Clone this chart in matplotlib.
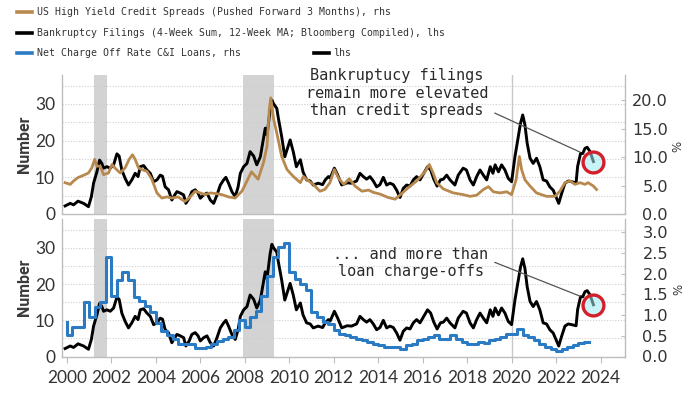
import matplotlib
matplotlib.use("Agg")
import matplotlib.pyplot as plt
from matplotlib.lines import Line2D
import numpy as np

# ---------------- data ----------------
bk_dates = [1999.92, 2000.15, 2000.3, 2000.5, 2000.75, 2000.97, 2001.1, 2001.2, 2001.35, 2001.47,
            2001.57, 2001.65, 2001.8, 2001.95, 2002.1, 2002.25, 2002.35, 2002.47, 2002.62, 2002.77,
            2002.92, 2003.07, 2003.2, 2003.3, 2003.45, 2003.6, 2003.75, 2003.9, 2004.05, 2004.2,
            2004.3, 2004.42, 2004.57, 2004.72, 2004.85, 2004.95, 2005.1, 2005.25, 2005.35, 2005.5,
            2005.62, 2005.77, 2005.9, 2006.0, 2006.15, 2006.3, 2006.45, 2006.6, 2006.75, 2006.9,
            2007.05, 2007.15, 2007.27, 2007.42, 2007.57, 2007.7, 2007.8, 2007.95, 2008.1, 2008.24,
            2008.4, 2008.54, 2008.7, 2008.92, 2009.0, 2009.14, 2009.22, 2009.3, 2009.44, 2009.5,
            2009.66, 2009.8, 2010.04, 2010.18, 2010.32, 2010.5, 2010.62, 2010.78, 2010.94, 2011.08,
            2011.3, 2011.5, 2011.62, 2011.76, 2011.84, 2012.03, 2012.18, 2012.36, 2012.6, 2012.8,
            2013.03, 2013.18, 2013.33, 2013.48, 2013.63, 2013.78, 2013.93, 2014.08, 2014.23, 2014.38,
            2014.53, 2014.68, 2014.83, 2014.98, 2015.13, 2015.28, 2015.43, 2015.58, 2015.73, 2015.88,
            2016.05, 2016.22, 2016.36, 2016.5, 2016.65, 2016.8, 2016.93, 2017.08, 2017.23, 2017.45,
            2017.6, 2017.82, 2017.97, 2018.13, 2018.28, 2018.43, 2018.58, 2018.73, 2018.88, 2019.04,
            2019.16, 2019.26, 2019.41, 2019.55, 2019.7, 2019.85, 2020.0, 2020.15, 2020.3, 2020.4,
            2020.5, 2020.6, 2020.7, 2020.83, 2020.97, 2021.12, 2021.27, 2021.42, 2021.57, 2021.72,
            2021.87, 2022.02, 2022.12, 2022.25, 2022.4, 2022.55, 2022.7, 2022.9, 2022.97, 2023.1,
            2023.2, 2023.3, 2023.4, 2023.53, 2023.68]
bk_vals = [2.2, 2.9, 2.5, 3.5, 2.9, 2.0, 4.7, 8.4, 11.5, 14.7,
           13.8, 12.5, 12.9, 12.5, 13.4, 16.4, 15.8, 12.0, 9.7, 7.9,
           9.3, 11.1, 10.2, 12.9, 13.2, 12.0, 11.1, 8.8, 9.3, 10.6,
           10.3, 7.4, 6.6, 3.8, 5.2, 6.1, 5.7, 5.2, 2.9, 4.3,
           6.1, 6.6, 5.7, 4.3, 5.2, 5.7, 3.8, 2.9, 5.2, 7.9,
           9.3, 10.0, 8.4, 6.1, 4.7, 7.4, 11.1, 12.9, 13.8, 17.0,
           15.8, 13.4, 15.6, 23.4, 21.5, 28.4, 31.0, 30.0, 28.8, 26.5,
           21.1, 15.6, 20.2, 17.0, 12.9, 14.8, 11.5, 9.3, 9.0, 7.9,
           8.4, 8.0, 9.3, 10.2, 9.8, 12.5, 10.6, 7.9, 8.5, 8.4,
           9.0, 11.1, 10.2, 9.5, 10.2, 9.0, 7.4, 8.0, 10.0, 7.9,
           8.4, 8.0, 6.5, 4.5, 7.0, 7.9, 7.6, 9.3, 10.2, 9.3,
           11.1, 12.9, 12.0, 9.5, 7.6, 9.3, 9.5, 10.6, 9.3, 7.9,
           10.6, 12.5, 12.0, 9.3, 7.9, 10.2, 12.0, 10.6, 9.3, 12.9,
           11.1, 13.4, 11.5, 13.4, 12.0, 9.7, 8.8, 15.6, 21.1, 24.7,
           27.0, 24.3, 19.3, 15.2, 13.8, 15.2, 12.9, 9.3, 9.0, 7.4,
           6.5, 4.3, 2.9, 5.6, 8.4, 9.0, 8.8, 8.5, 13.0, 16.5,
           16.5, 17.9, 18.2, 17.0, 14.3]

hy_dates = [1999.92, 2000.15, 2000.3, 2000.5, 2000.75, 2000.97, 2001.12, 2001.25, 2001.35, 2001.5,
            2001.65, 2001.87, 2002.03, 2002.18, 2002.4, 2002.62, 2002.8, 2002.95, 2003.07, 2003.22,
            2003.37, 2003.6, 2003.82, 2004.05, 2004.27, 2004.5, 2004.72, 2005.0, 2005.3, 2005.5,
            2005.77, 2006.0, 2006.2, 2006.45, 2006.67, 2006.97, 2007.27, 2007.57, 2007.87, 2008.1,
            2008.3, 2008.6, 2008.84, 2009.0, 2009.1, 2009.17, 2009.3, 2009.4, 2009.5, 2009.66,
            2009.9, 2010.18, 2010.5, 2010.64, 2010.8, 2011.08, 2011.38, 2011.6, 2011.83, 2012.03,
            2012.2, 2012.45, 2012.7, 2012.96, 2013.27, 2013.57, 2013.78, 2014.08, 2014.45, 2014.76,
            2015.06, 2015.35, 2015.73, 2016.1, 2016.3, 2016.47, 2016.63, 2016.93, 2017.38, 2017.82,
            2018.13, 2018.43, 2018.73, 2018.96, 2019.18, 2019.48, 2019.78, 2020.0, 2020.2, 2020.35,
            2020.45, 2020.6, 2020.83, 2021.12, 2021.57, 2021.95, 2022.17, 2022.4, 2022.63, 2022.85,
            2023.08, 2023.3, 2023.44, 2023.68, 2023.82]
hy_vals = [5.5, 5.2, 5.8, 6.4, 6.8, 7.2, 8.1, 9.6, 8.4, 8.4,
           6.9, 7.2, 8.7, 8.0, 7.2, 8.1, 9.6, 10.4, 9.6, 8.1,
           7.8, 7.5, 6.1, 3.7, 2.8, 3.0, 2.8, 3.0, 2.2, 2.8,
           4.0, 3.7, 3.4, 3.7, 3.6, 3.4, 3.0, 2.8, 4.0, 5.8,
           7.4, 6.1, 9.0, 11.9, 18.3, 20.4, 16.6, 14.9, 13.1, 10.1,
           7.8, 6.6, 5.5, 6.6, 6.0, 5.2, 4.0, 4.3, 5.5, 7.8,
           6.4, 5.2, 6.2, 4.9, 4.0, 4.2, 3.8, 3.5, 2.9, 2.6,
           3.6, 4.6, 5.8, 7.4, 8.7, 7.2, 5.5, 4.4, 3.7, 3.4,
           3.1, 3.3, 4.3, 4.8, 3.9, 3.7, 3.9, 3.4, 6.0, 10.1,
           7.8, 6.0, 4.9, 3.7, 3.1, 3.1, 4.0, 5.5, 5.8, 5.2,
           5.5, 5.2, 5.5, 4.9, 4.3]

# Net charge-off rate, C&I loans: first value is 1999Q4, then 2000Q1 ... 2023Q2
co_first_year = 1999
co_first_quarter = 4
co_vals = [0.83,
           0.52, 0.71, 0.71, 1.31,
           0.95, 1.19, 1.31, 2.40,
           1.47, 1.84, 2.04, 1.84,
           1.43, 1.35, 1.23, 1.07,
           0.80, 0.62, 0.52, 0.43,
           0.31, 0.31, 0.29, 0.20,
           0.20, 0.22, 0.31, 0.37,
           0.43, 0.47, 0.63, 0.87,
           0.71, 0.95, 1.10, 1.45,
           1.95, 2.40, 2.64, 2.74,
           2.04, 1.88, 1.76, 1.60,
           1.07, 0.95, 0.83, 0.79,
           0.63, 0.55, 0.51, 0.47,
           0.43, 0.39, 0.35, 0.31,
           0.27, 0.24, 0.22, 0.22,
           0.19, 0.27, 0.31, 0.39,
           0.43, 0.47, 0.51, 0.43,
           0.43, 0.51, 0.43, 0.35,
           0.31, 0.31, 0.35, 0.33,
           0.39, 0.43, 0.47, 0.55,
           0.55, 0.66, 0.51, 0.47,
           0.39, 0.30, 0.22, 0.18,
           0.14, 0.17, 0.22, 0.28,
           0.33, 0.36]

recessions = [(2001.2, 2001.8), (2007.93, 2009.3)]
x_ticks = list(range(2000, 2025, 2))
left_ticks = [0, 10, 20, 30]
right_ticks_top = [0.0, 5.0, 10.0, 15.0, 20.0]
right_ticks_bot = [0.0, 0.5, 1.0, 1.5, 2.0, 2.5, 3.0]

legend_rows = ["US High Yield Credit Spreads (Pushed Forward 3 Months), rhs",
               "Bankruptcy Filings (4-Week Sum, 12-Week MA; Bloomberg Compiled), lhs",
               "Net Charge Off Rate C&I Loans, rhs"]
note_top = "Bankruptucy filings\nremain more elevated\nthan credit spreads"
note_bot = "... and more than\nloan charge-offs"

# ---------------- style ----------------
C_TAN = "#b8894f"
C_BLACK = "#000000"
C_BLUE = "#2b7bc4"
C_TEXT = "#333333"
C_SPINE = "#bdbdbd"
C_REC = "#d3d3d3"

W, H = 700, 394
fig = plt.figure(figsize=(W / 100, H / 100), dpi=100)
fig.patch.set_facecolor("white")


def fx(px):
    return px / W


def fy(py):
    return 1 - py / H


ax_l, ax_r = 62, 625
ax1 = fig.add_axes([fx(ax_l), fy(214), fx(ax_r - ax_l), (214 - 75) / H])
ax3 = fig.add_axes([fx(ax_l), fy(356.5), fx(ax_r - ax_l), (356.5 - 219) / H])
ax2 = ax1.twinx()
ax4 = ax3.twinx()

xlim = (1999.78, 2025.1)

# charge-off x positions: quarter ends
co_x = []
y, q = co_first_year, co_first_quarter
for _ in co_vals:
    co_x.append(y + q * 0.25)
    q += 1
    if q > 4:
        q = 1
        y += 1

for ax, ylim in ((ax1, 37.9), (ax3, 38.0)):
    ax.set_xlim(*xlim)
    ax.set_ylim(0, ylim)
    for a, b in recessions:
        ax.axvspan(a, b, color=C_REC, lw=0, zorder=0)
    for gv in range(5, 40, 5):
        ax.axhline(gv, color="#cfcfcf", lw=0.8, ls=(0, (1, 1.5)), zorder=0.5)
    ax.axvline(2020.0, color="#c8c8c8", lw=1.0, zorder=0.6)
    ax.plot(bk_dates, bk_vals, color=C_BLACK, lw=2.1, solid_joinstyle="round", zorder=3)
    ax.set_yticks(left_ticks)
    ax.set_xticks(x_ticks)
    ax.tick_params(axis="y", length=0, pad=5, labelsize=12.5, labelcolor=C_TEXT)
    for lab in ax.get_yticklabels():
        lab.set_family("Lato")
    ax.set_ylabel("Number", fontsize=11.5, color="#3a3a3a", fontweight="bold",
                  family="Roboto", labelpad=2)
    for s in ("top", "right"):
        ax.spines[s].set_visible(False)
    for s in ("left", "bottom"):
        ax.spines[s].set_color(C_SPINE)
        ax.spines[s].set_linewidth(1.0)

ax1.tick_params(axis="x", length=0, labelbottom=False)
ax3.tick_params(axis="x", length=4, color=C_SPINE, pad=6, labelsize=12.5, labelcolor=C_TEXT)
for lab in ax3.get_xticklabels():
    lab.set_family("Lato")

ax2.plot(hy_dates, hy_vals, color=C_TAN, lw=2.0, zorder=2)
ax2.set_ylim(0, 24.4)
ax4.step(co_x, co_vals, where="pre", color=C_BLUE, lw=2.2, zorder=2)
ax4.set_ylim(0, 3.32)

for ax, ticks in ((ax2, right_ticks_top), (ax4, right_ticks_bot)):
    ax.set_xlim(*xlim)
    ax.set_yticks(ticks)
    ax.set_yticklabels(["{:.1f}".format(t) for t in ticks], family="DejaVu Sans",
                       fontsize=11.6, color=C_TEXT, ha="right")
    ax.tick_params(axis="y", direction="in", length=3, color=C_SPINE, pad=31)
    for s in ("top", "left", "bottom"):
        ax.spines[s].set_visible(False)
    ax.spines["right"].set_color(C_SPINE)
    ax.spines["right"].set_linewidth(1.0)
    ax.patch.set_visible(False)

fig.text(fx(678), fy(146), "%", rotation=90, fontsize=8.5, color=C_TEXT, ha="center", va="center")
fig.text(fx(679), fy(289), "%", rotation=90, fontsize=8.5, color=C_TEXT, ha="center", va="center")

# ---------------- annotations ----------------
ax1.text(2000 + (397 - 66.7) / 22.25, 37.9 - (93 - 75) / 3.667, note_top, ha="center", va="center",
         family="DejaVu Sans Mono", fontsize=11, color="#2a2a2a", linespacing=1.2, zorder=5)
ax3.text(2000 + (411 - 66.7) / 22.25, 38.0 - (263 - 219) / 3.62, note_bot, ha="center", va="center",
         family="DejaVu Sans Mono", fontsize=11, color="#2a2a2a", linespacing=1.2, zorder=5)

ax1.plot([2019.25, 2023.07], [27.5, 16.9], color="#555555", lw=0.9, zorder=4)
ax3.plot([2019.25, 2023.07], [26.0, 16.7], color="#555555", lw=0.9, zorder=4)

for axp, axt in ((ax1, ax2), (ax3, ax4)):
    axt.plot([bk_dates[-1]], [bk_vals[-1]], transform=axp.transData, marker="o", ms=15,
             mfc=(0.62, 0.92, 0.95, 0.55), mec="#d41f2b", mew=2.4, zorder=10, clip_on=False)

# ---------------- legend ----------------
rows_y = [12, 33, 53]
colors = [C_TAN, C_BLACK, C_BLUE]
for ry, txt, col in zip(rows_y, legend_rows, colors):
    fig.add_artist(Line2D([fx(17), fx(32)], [fy(ry), fy(ry)], color=col, lw=2.6,
                          transform=fig.transFigure))
    fig.text(fx(37), fy(ry), txt, family="DejaVu Sans Mono", fontsize=7.1, color=C_TEXT,
             ha="left", va="center")
fig.add_artist(Line2D([fx(314), fx(329)], [fy(53), fy(53)], color=C_BLACK, lw=2.6,
                      transform=fig.transFigure))
fig.text(fx(333), fy(53), "lhs", family="DejaVu Sans Mono", fontsize=7.1, color=C_TEXT,
         ha="left", va="center")

fig.savefig("out.png", dpi=100, facecolor="white")
